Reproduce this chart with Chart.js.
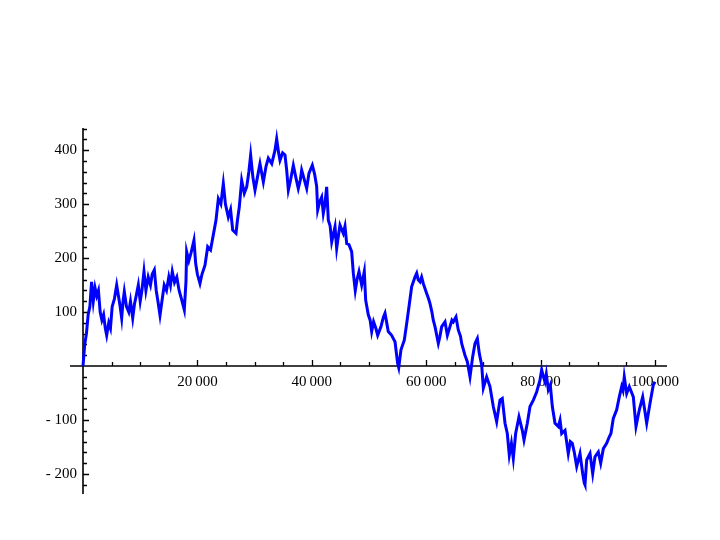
<!DOCTYPE html>
<html>
<head>
<meta charset="utf-8">
<script src="https://cdn.jsdelivr.net/npm/chart.js@4/dist/chart.umd.min.js"></script>
<style>
  html, body { margin: 0; padding: 0; background: #fff; }
  #wrap { width: 720px; height: 540px; position: relative; }
</style>
</head>
<body>
<div id="wrap"><canvas id="walkChart"></canvas></div>
<script>
// step index along the walk
const steps = [
    0, 300, 600, 900, 1200, 1500, 1800, 2100, 2400, 2700,
    3000, 3300, 3600, 3900, 4140, 4500, 4800, 5100, 5500, 5890,
    6200, 6500, 6760, 7000, 7220, 7600, 8000, 8300, 8690, 9000,
    9300, 9670, 10000, 10300, 10660, 11000, 11400, 11800, 12100, 12470,
    12800, 13100, 13460, 13800, 14200, 14600, 15000, 15300, 15610, 16000,
    16400, 16800, 17200, 17710, 18000, 18120, 18500, 18900, 19400, 19700,
    20000, 20450, 20800, 21330, 21800, 22300, 22780, 23250, 23660, 24100,
    24530, 24900, 25400, 25800, 26170, 26750, 27000, 27330, 27740, 28200,
    28620, 29000, 29310, 29700, 30070, 30500, 30940, 31200, 31530, 32000,
    32400, 33000, 33570, 33860, 34200, 34440, 34900, 35310, 35610, 35900,
    36300, 36770, 37200, 37640, 38000, 38230, 38700, 39110, 39500, 40090,
    40500, 40850, 41030, 41400, 41730, 42010, 42300, 42600, 42890, 43200,
    43480, 44060, 44350, 44700, 44930, 45500, 45800, 46100, 46500, 46970,
    47260, 47600, 47900, 48250, 48720, 49180, 49420, 49880, 50200, 50470,
    50800, 51200, 51520, 52100, 52500, 52800, 53100, 53370, 53960, 54300,
    54550, 55010, 55200, 55590, 56170, 56590, 56990, 57460, 58040, 58340,
    58600, 58920, 59200, 59490, 60070, 60400, 60660, 61000, 61240, 61540,
    62120, 62400, 62710, 63290, 63700, 64160, 64500, 64740, 65210, 65610,
    66000, 66200, 66780, 67190, 67660, 68120, 68530, 68940, 69290, 69700,
    69990, 70570, 71150, 71730, 72320, 72900, 73300, 73780, 74180, 74530,
    74900, 75230, 75640, 76220, 76800, 77100, 77680, 78150, 78730, 79310,
    79890, 80190, 80500, 80770, 81000, 81350, 81700, 82050, 82520, 83100,
    83400, 83690, 84270, 84840, 85200, 85540, 85900, 86310, 86890, 87360,
    87640, 87760, 88060, 88640, 89110, 89510, 90090, 90510, 90970, 91550,
    92010, 92300, 92710, 93300, 93760, 94180, 94400, 94630, 95050, 95510,
    96210, 96680, 97260, 97850, 98550, 99130, 99700, 100000
];

// walk position at each step
const walk = [
    0, 40, 60, 95, 110, 156, 120, 145, 130, 140,
    100, 85, 95, 70, 57, 80, 70, 110, 125, 150,
    130, 110, 89, 120, 138, 110, 100, 120, 89, 115,
    130, 150, 120, 140, 175, 140, 165, 150, 170, 178,
    140, 120, 94, 120, 150, 140, 165, 150, 175, 155,
    165, 140, 125, 104, 156, 212, 195, 210, 233, 190,
    170, 153, 170, 187, 221, 215, 243, 270, 310, 300,
    338, 300, 276, 290, 252, 246, 270, 295, 344, 320,
    332, 360, 391, 350, 326, 350, 375, 360, 341, 370,
    385, 375, 400, 421, 395, 381, 395, 391, 363, 326,
    345, 372, 350, 329, 345, 363, 345, 329, 357, 372,
    355, 333, 289, 305, 313, 283, 300, 332, 270, 260,
    230, 258, 218, 245, 261, 246, 259, 227, 225, 212,
    172, 140, 160, 175, 150, 175, 122, 95, 85, 64,
    82, 70, 57, 73, 90, 98, 80, 64, 57, 50,
    45, 5, -3, 30, 48, 79, 110, 147, 165, 172,
    160, 156, 165, 153, 135, 125, 116, 100, 85, 73,
    42, 55, 73, 82, 57, 73, 85, 82, 91, 67,
    55, 42, 20, 8, -20, 17, 42, 51, 23, 2,
    -41, -20, -38, -75, -103, -63, -60, -106, -125, -165,
    -143, -171, -125, -94, -119, -137, -106, -75, -63, -48,
    -26, -7, -20, -29, -15, -44, -35, -75, -106, -112,
    -100, -125, -119, -162, -140, -143, -160, -186, -162, -199,
    -217, -220, -174, -162, -199, -168, -159, -180, -153, -143,
    -131, -125, -97, -81, -57, -38, -45, -20, -51, -38,
    -57, -112, -81, -57, -106, -69, -35, -29
];

const xTicks = [20000, 40000, 60000, 80000, 100000];
const yTicks = [-200, -100, 100, 200, 300, 400];

// 20 000 style grouping, "- 100" style minus
function fmt(v) {
    const s = String(Math.abs(v));
    const grouped = s.length > 4 ? s.slice(0, s.length - 3) + '\u2009' + s.slice(-3) : s;
    return v < 0 ? '- ' + grouped : grouped;
}

// draws the crossing axes, their tick marks and labels
const crossAxes = {
    id: 'crossAxes',
    beforeDatasetsDraw(chart) {
        const ctx = chart.ctx;
        const xs = chart.scales.x;
        const ys = chart.scales.y;
        const x0 = xs.getPixelForValue(0);
        const y0 = ys.getPixelForValue(0);
        ctx.save();
        ctx.strokeStyle = '#000';
        ctx.fillStyle = '#000';
        ctx.lineWidth = 1.6;

        ctx.beginPath();
        ctx.moveTo(xs.left, y0);
        ctx.lineTo(xs.right, y0);
        ctx.moveTo(x0, ys.top);
        ctx.lineTo(x0, ys.bottom);
        ctx.stroke();

        ctx.lineWidth = 1.3;
        ctx.beginPath();
        for (let v = 5000; v <= xs.max; v += 5000) {
            const px = Math.round(xs.getPixelForValue(v)) + 0.5;
            const len = v % 20000 === 0 ? 6 : 4;
            ctx.moveTo(px, y0);
            ctx.lineTo(px, y0 - len);
        }
        for (let v = -220; v <= ys.max; v += 20) {
            if (v === 0) continue;
            const py = Math.round(ys.getPixelForValue(v)) + 0.5;
            const len = v % 100 === 0 ? 6 : 4;
            ctx.moveTo(x0, py);
            ctx.lineTo(x0 + len, py);
        }
        ctx.stroke();

        ctx.font = '15px "Liberation Serif", "DejaVu Serif", serif';
        ctx.textAlign = 'center';
        ctx.textBaseline = 'middle';
        xTicks.forEach(v => {
            ctx.fillText(fmt(v), xs.getPixelForValue(v), y0 + 16);
        });
        ctx.textAlign = 'right';
        yTicks.forEach(v => {
            ctx.fillText(fmt(v), x0 - 6, ys.getPixelForValue(v));
        });
        ctx.restore();
    }
};

const ctx = document.getElementById('walkChart').getContext('2d');
new Chart(ctx, {
    type: 'line',
    data: {
        datasets: [{
            data: steps.map((s, i) => ({ x: s, y: walk[i] })),
            borderColor: 'rgb(0, 0, 255)',
            borderWidth: 3,
            pointRadius: 0,
            tension: 0,
            fill: false
        }]
    },
    options: {
        responsive: true,
        maintainAspectRatio: false,
        animation: false,
        layout: { padding: { left: 70, right: 53, top: 128, bottom: 46 } },
        plugins: {
            legend: { display: false },
            tooltip: { enabled: false }
        },
        scales: {
            x: { type: 'linear', min: -2273, max: 102100, display: false },
            y: { type: 'linear', min: -237, max: 441, display: false }
        }
    },
    plugins: [crossAxes]
});
</script>
</body>
</html>
